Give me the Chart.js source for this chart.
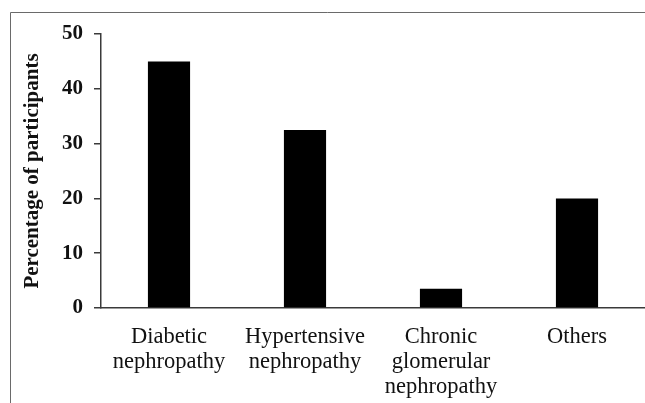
<!DOCTYPE html>
<html>
<head>
<meta charset="utf-8">
<script src="https://cdn.jsdelivr.net/npm/chart.js@4"></script>
<style>
  html, body { margin: 0; padding: 0; background: #fff; }
  #wrap { position: relative; width: 645px; height: 403px; }
</style>
</head>
<body>
<div id="wrap"><canvas id="c" width="645" height="403"></canvas></div>
<script>
const categories = [
  ["Diabetic", "nephropathy"],
  ["Hypertensive", "nephropathy"],
  ["Chronic", "glomerular", "nephropathy"],
  ["Others"]
];
const percentages = [45, 32.5, 3.5, 20];
const yTicks = [0, 10, 20, 30, 40, 50];
const yTitle = "Percentage of participants";

const serif = '"Liberation Serif", "Times New Roman", serif';

const framePlugin = {
  id: 'frame',
  beforeDraw(chart) {
    const ctx = chart.ctx;
    ctx.save();
    ctx.fillStyle = '#fff';
    ctx.fillRect(0, 0, chart.width, chart.height);
    ctx.strokeStyle = '#6a6a6a';
    ctx.lineWidth = 1;
    ctx.beginPath();
    ctx.moveTo(10.5, chart.height);
    ctx.lineTo(10.5, 12.5);
    ctx.lineTo(chart.width, 12.5);
    ctx.stroke();
    ctx.restore();
  }
};

new Chart(document.getElementById('c'), {
  type: 'bar',
  data: {
    labels: categories,
    datasets: [{
      data: percentages,
      backgroundColor: '#000',
      borderWidth: 0,
      categoryPercentage: 1,
      barPercentage: 0.31
    }]
  },
  options: {
    responsive: false,
    animation: false,
    devicePixelRatio: 1,
    layout: { padding: { top: 34, left: 0, right: 0, bottom: 0 } },
    plugins: { legend: { display: false }, tooltip: { enabled: false } },
    scales: {
      x: {
        grid: { display: false },
        border: { display: true, color: '#3a3a3a', width: 1.5 },
        ticks: {
          color: '#111',
          font: { family: serif, size: 22.5, lineHeight: 1.12 },
          padding: 8,
          maxRotation: 0,
          autoSkip: false
        },
        afterFit(scale) { scale.height = 95; }
      },
      y: {
        min: 0,
        max: 50,
        afterBuildTicks(scale) { scale.ticks = yTicks.map(v => ({ value: v })); },
        grid: {
          drawOnChartArea: false,
          drawTicks: true,
          tickLength: 7,
          color: '#3a3a3a',
          lineWidth: 1.5
        },
        border: { display: true, color: '#3a3a3a', width: 1.5 },
        ticks: {
          color: '#111',
          font: { family: serif, size: 21, weight: 'bold' },
          padding: 11
        },
        title: {
          display: true,
          text: yTitle,
          color: '#111',
          font: { family: serif, size: 21, weight: 'bold', lineHeight: 1.2 },
          padding: { top: 20, bottom: 0 }
        },
        afterFit(scale) { scale.width = 101; }
      }
    }
  },
  plugins: [framePlugin]
});
</script>
</body>
</html>
